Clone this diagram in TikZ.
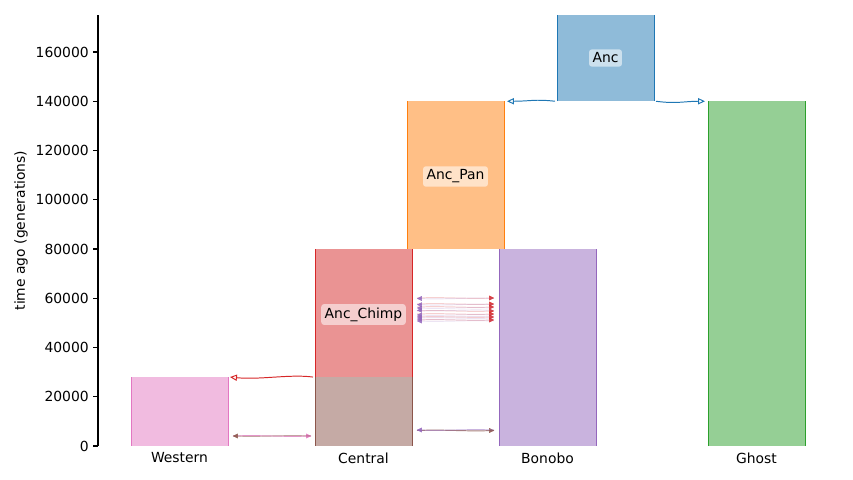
\documentclass[tikz,border=0pt]{standalone}
\usepackage{fontspec}
\setmainfont{DejaVu Sans}
\usetikzlibrary{arrows.meta,calc}
\definecolor{tblue}{HTML}{1F77B4}
\definecolor{torange}{HTML}{FF7F0E}
\definecolor{tgreen}{HTML}{2CA02C}
\definecolor{tred}{HTML}{D62728}
\definecolor{tpurple}{HTML}{9467BD}
\definecolor{tpink}{HTML}{E377C2}
\definecolor{tbrown}{HTML}{8C564B}
\definecolor{fblue}{HTML}{8FBBD9}
\definecolor{forange}{HTML}{FFBF86}
\definecolor{fgreen}{HTML}{95CF95}
\definecolor{fred}{HTML}{EA9393}
\definecolor{fpurple}{HTML}{C9B3DE}
\definecolor{fpink}{HTML}{F1BBE0}
\definecolor{fbrown}{HTML}{C5AAA5}
\newcommand{\demebox}[7]{%
  \fill[#5] (#1,#2) rectangle (#3,#4);
  \draw[#6, edgeline] (#1,#2) -- (#1,#4) (#3,#2) -- (#3,#4);
  \coordinate (#7L) at (#1,#2);
  \coordinate (#7R) at (#3,#2);}
% migration: from x1 to x2 at height y, colour, line opacity
\newcommand{\migline}[5]{%
  \coordinate (ms) at (#1,#3);
  \coordinate (me) at (#2,#3);
  \draw[migbody, #4, draw opacity=#5] (ms) .. controls ($(ms)!0.4!(me)+(0,1.2)$) and ($(ms)!0.6!(me)+(0,-1.2)$) .. (me);
  \draw[mighead, #4] ($(ms)!0.96!(me)$) -- (me);}
\tikzset{
  edgeline/.style={line width=0.6pt},
  demelabel/.style={rounded corners=2pt, fill=white, fill opacity=0.55, text opacity=1, inner sep=2.5pt},
  pulse/.style={line width=0.7pt, -{Triangle[open, length=5pt, width=4.5pt]}},
  migbody/.style={line width=0.7pt},
  mighead/.style={line width=0.3pt, draw opacity=0.85, fill opacity=0.85, -{Triangle[length=3.5pt, width=3.5pt]}},
  ticklab/.style={inner sep=0pt},
}
\begin{document}
\begin{tikzpicture}[x=0.72pt, y=0.72pt, font=\fontsize{10}{12}\selectfont]
\useasboundingbox (0,0) rectangle (853,480);
% demes
\demebox{557}{378.75}{654}{465}{fblue}{tblue}{anc}
\demebox{407}{231}{504}{378.75}{forange}{torange}{pan}
\demebox{708}{34}{805}{378.75}{fgreen}{tgreen}{ghost}
\demebox{499}{34}{596}{231}{fpurple}{tpurple}{bon}
\demebox{315}{102.95}{412}{231}{fred}{tred}{chimp}
\demebox{315}{34}{412}{102.95}{fbrown}{tbrown}{cen}
\demebox{131}{34}{228}{102.95}{fpink}{tpink}{wes}
% pulse / ancestry arrows
\coordinate (a1) at (555,378.75);
\coordinate (a2) at (507,378.75);
\coordinate (a3) at (656,378.75);
\coordinate (a4) at (705,378.75);
\coordinate (c1) at (313,102.95);
\coordinate (c2) at (230,102.95);
\draw[pulse, tblue] (a1) .. controls (535,381) and (530,378.75) .. (a2);
\draw[pulse, tblue] (a3) .. controls (676,376) and (685,378.75) .. (a4);
\draw[pulse, tred] (c1) .. controls (290,106) and (260,100) .. (c2);
% migrations Anc_Chimp <-> Bonobo
\foreach \yy in {182,176,173,169,166,163,160} {
  \migline{417}{494}{\yy}{tred}{0.22}
}
\foreach \yy in {181.5,175.3,172,169.7,165,163,161,159} {
  \migline{494}{417}{\yy}{tpurple}{0.18}
}
% migrations Central <-> Bonobo
\migline{417}{494}{49.5}{tbrown}{0.75}
\migline{494}{417}{50}{tpurple}{0.5}
% migrations Western <-> Central
\migline{233}{311}{44}{tpink}{0.75}
\migline{311}{233}{44}{tbrown}{0.5}
% labels
\node[demelabel] (lanc) at (605.5,422) {Anc};
\node[demelabel] (lpan) at (455.5,303.5) {Anc\_Pan};
\node[demelabel] (lchimp) at (363.5,165.5) {Anc\_Chimp};
% axis
\draw[line width=0.8pt] (98,34) -- (98,465);
\foreach \k/\lab in {0/0,1/20000,2/40000,3/60000,4/80000,5/100000,6/120000,7/140000,8/160000} {
  \pgfmathsetmacro{\yy}{34+\k*49.25}
  \draw[line width=0.8pt] (93,\yy) -- (98,\yy);
  \node[ticklab, anchor=east] at (89,\yy) {\lab};
}
\node[rotate=90] (ylab) at (21,249.5) {time ago (generations)};
\node (xw) at (179.5,22) {Western};
\node (xc) at (363.5,22) {Central};
\node (xb) at (547.5,22) {Bonobo};
\node (xg) at (756.5,22) {Ghost};
\end{tikzpicture}
\end{document}
